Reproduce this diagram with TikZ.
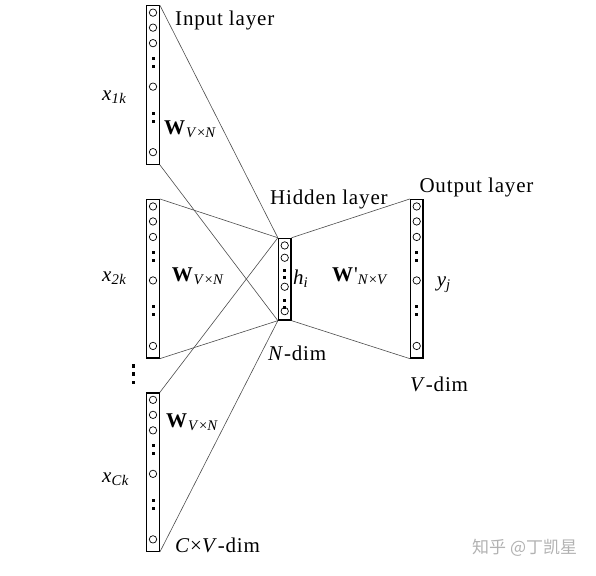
\documentclass[tikz,border=0pt]{standalone}
\usepackage{fontspec}
\setmainfont{Liberation Serif}[LetterSpace=4]
\newfontfamily\cjkfont{Noto Sans CJK SC}
\usetikzlibrary{positioning, calc}

\begin{document}
\begin{tikzpicture}[x=1pt, y=-1pt,
    bar/.style    = {rectangle, draw=black, line width=1.2pt, inner sep=0pt,
                     minimum width=12.5pt, minimum height=158.5pt},
    hidbar/.style = {bar, minimum height=81.7pt},
    unitc/.style  = {draw=black, line width=0.7pt},
    link/.style   = {line width=0.6pt, draw=black!70},
    lbl/.style    = {font=\fontsize{21}{25}\selectfont, inner sep=0pt,
                     anchor=base west},
]

\useasboundingbox (0,0) rectangle (596,575);

%% ---- Layers ----
\node[bar] (in1) at (153, 85) {};
\node[bar] (in2) at (153, 278.8) {};
\node[bar] (in3) at (153, 472.2) {};
\node[hidbar] (hid) at (284.7, 279.2) {};
\node[bar] (out) at (416.7, 278.8) {};

%% units and dots of the long layers
\foreach \b in {in1, in2, in3, out} {
    \foreach \o in {7.5, 22.5, 38, 81.5, 147}
        \draw[unitc] ($(\b.north)+(0,\o)$) circle (3.7);
    \foreach \o in {53.5, 61.5, 108, 116}
        \fill ($(\b.north)+(-1.5,\o-1.5)$) rectangle ++(3,3);
}

%% units and dots of the hidden layer
\foreach \o in {7.7, 20, 49, 73.4}
    \draw[unitc] ($(hid.north)+(0,\o)$) circle (3.7);
\foreach \o in {32.4, 39.4, 62.4, 69.4}
    \fill ($(hid.north)+(-1.5,\o-1.5)$) rectangle ++(3,3);

%% dots between the context words
\foreach \y in {366, 374, 382.3}
    \fill (131.6, \y-1.6) rectangle ++(3.3,3.3);

%% ---- Connections ----
\foreach \b in {in1, in2, in3} {
    \draw[link] (\b.north east) -- (hid.north west);
    \draw[link] (\b.south east) -- (hid.south west);
}
\draw[link] (hid.north east) -- (out.north west);
\draw[link] (hid.south east) -- (out.south west);

%% ---- Labels ----
\node[lbl] (inlbl) at (175, 25.7) {Input layer};
\node[lbl] (x1) at (102, 100) {\textit{x\textsubscript{1k}}};
\node[lbl] (w1) at (164, 134)
    {\textbf{W}\textsubscript{\textit{V}×\textit{N}}};
\node[lbl] (x2) at (102, 281) {\textit{x\textsubscript{2k}}};
\node[lbl] (w2) at (171.7, 281)
    {\textbf{W}\textsubscript{\textit{V}×\textit{N}}};
\node[lbl] (xc) at (102, 482.5) {\textit{x\textsubscript{Ck}}};
\node[lbl] (w3) at (166, 427)
    {\textbf{W}\textsubscript{\textit{V}×\textit{N}}};
\node[lbl] (cvdim) at (175, 552) {\textit{C}×\textit{V}-dim};

\node[lbl] (hidlbl) at (270, 204.3) {Hidden layer};
\node[lbl] (hlbl) at (293, 284) {\textit{h\textsubscript{i}}};
\node[lbl] (ndim) at (268, 360) {\textit{N}-dim};

\node[lbl] (wout) at (332, 281)
    {\textbf{W}\textquotesingle\textsubscript{\textit{N}×\textit{V}}};
\node[lbl] (outlbl) at (419.3, 192.7) {Output layer};
\node[lbl] (ylbl) at (436.7, 286.7) {\textit{y\textsubscript{j}}};
\node[lbl] (vdim) at (410, 391.7) {\textit{V}-dim};

\node[inner sep=0pt, anchor=base west, text=black!30,
      font=\cjkfont\fontsize{17}{20}\selectfont] (mark) at (472, 553)
    {知乎 @丁凯星};

\end{tikzpicture}
\end{document}
